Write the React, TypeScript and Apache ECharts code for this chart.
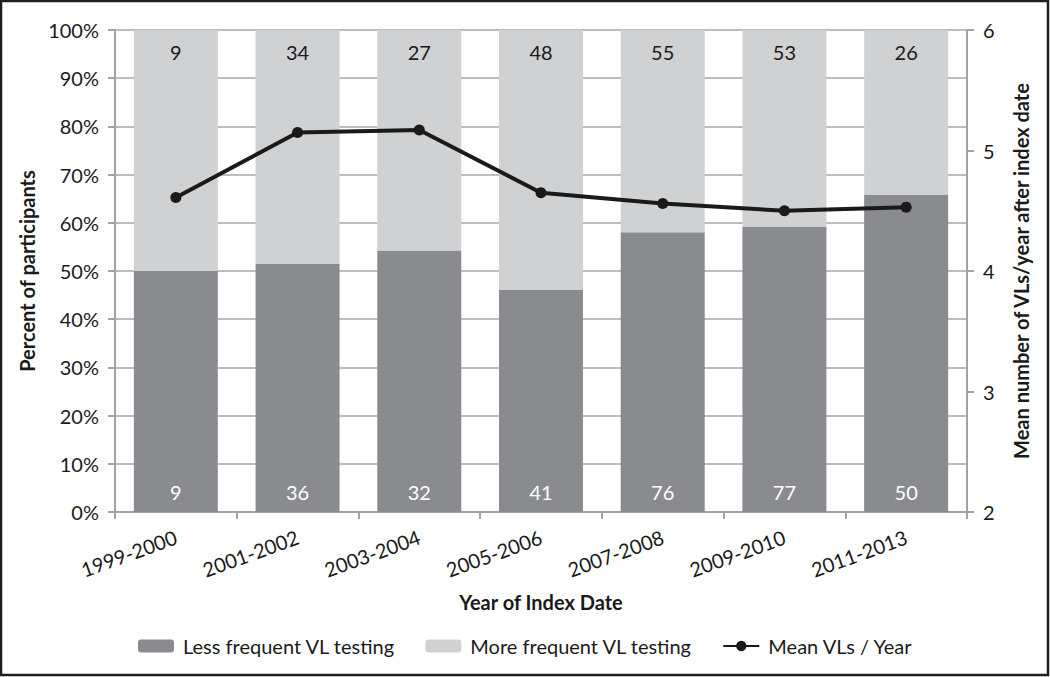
import React, { useEffect, useRef } from "react";
import * as echarts from "echarts";

const categories = ["1999-2000", "2001-2002", "2003-2004", "2005-2006", "2007-2008", "2009-2010", "2011-2013"];
const lessCounts = [9, 36, 32, 41, 76, 77, 50];
const moreCounts = [9, 34, 27, 48, 55, 53, 26];
const meanVLs = [4.61, 5.15, 5.17, 4.65, 4.56, 4.5, 4.53];
const leftTicks = { min: 0, max: 100, interval: 10 };
const rightTicks = { min: 2, max: 6, interval: 1 };

const FONT = "Lato, 'Noto Sans', sans-serif";

export default function App() {
  const ref = useRef<HTMLDivElement>(null);
  useEffect(() => {
    if (!ref.current) return;
    const chart = echarts.init(ref.current, undefined, { renderer: "svg" });
    const lessPct = lessCounts.map((v, i) => (v / (v + moreCounts[i])) * 100);
    const morePct = moreCounts.map((v, i) => (v / (v + lessCounts[i])) * 100);
    const axisLine = { show: true, lineStyle: { color: "#a3a3a3", width: 2 } };
    const tick = { show: true, length: 7, lineStyle: { color: "#a3a3a3", width: 2 } };
    const nameStyle = { fontSize: 20, fontWeight: "bold", color: "#1a1a1a", fontFamily: FONT };
    chart.setOption({
      animation: false,
      textStyle: { fontFamily: FONT },
      graphic: [
        {
          type: "rect",
          shape: { x: 1, y: 1, width: 1047, height: 674 },
          style: { fill: "none", stroke: "#1e1e1e", lineWidth: 2.5 },
          silent: true,
        },
      ],
      grid: { left: 115, right: 83, top: 30, bottom: 165, containLabel: false },
      legend: {
        bottom: 16,
        left: 133,
        itemWidth: 36,
        itemHeight: 13,
        itemGap: 30,
        textStyle: { fontSize: 20, color: "#1a1a1a", fontFamily: FONT, padding: [0, 0, 0, 4] },
        data: ["Less frequent VL testing", "More frequent VL testing", "Mean VLs / Year"],
      },
      xAxis: {
        type: "category",
        data: categories,
        axisLine,
        axisTick: tick,
        axisLabel: { rotate: 20, fontSize: 20, color: "#1a1a1a", margin: 24, fontFamily: FONT },
        name: "Year of Index Date",
        nameLocation: "middle",
        nameGap: 80,
        nameTextStyle: nameStyle,
      },
      yAxis: [
        {
          type: "value",
          ...leftTicks,
          axisLine,
          axisTick: tick,
          axisLabel: { formatter: "{value}%", fontSize: 20, color: "#1a1a1a", margin: 16, fontFamily: FONT },
          splitLine: { show: true, lineStyle: { color: "#bdbdbd", width: 2 } },
          name: "Percent of participants",
          nameLocation: "middle",
          nameGap: 77,
          nameTextStyle: nameStyle,
        },
        {
          type: "value",
          ...rightTicks,
          position: "right",
          axisLine,
          axisTick: tick,
          axisLabel: { fontSize: 20, color: "#1a1a1a", margin: 16, fontFamily: FONT },
          splitLine: { show: false },
          name: "Mean number of VLs/year after index date",
          nameLocation: "middle",
          nameGap: 44,
          nameRotate: 90,
          nameTextStyle: nameStyle,
        },
      ],
      series: [
        {
          name: "Less frequent VL testing",
          type: "bar",
          stack: "pct",
          data: lessPct,
          barCategoryGap: "31%",
          itemStyle: { color: "#8a8b8f" },
          label: {
            show: true,
            position: "insideBottom",
            distance: 10,
            color: "#ffffff",
            fontSize: 20,
            fontFamily: FONT,
            formatter: (p: any) => String(lessCounts[p.dataIndex]),
          },
        },
        {
          name: "More frequent VL testing",
          type: "bar",
          stack: "pct",
          data: morePct,
          barCategoryGap: "31%",
          itemStyle: { color: "#d0d1d3" },
          label: {
            show: true,
            position: "insideTop",
            distance: 12,
            color: "#1a1a1a",
            fontSize: 20,
            fontFamily: FONT,
            formatter: (p: any) => String(moreCounts[p.dataIndex]),
          },
        },
        {
          name: "Mean VLs / Year",
          type: "line",
          yAxisIndex: 1,
          data: meanVLs,
          symbol: "circle",
          symbolSize: 11,
          lineStyle: { color: "#1a1a1a", width: 4 },
          itemStyle: { color: "#1a1a1a" },
          z: 5,
        },
      ],
    });
    return () => chart.dispose();
  }, []);
  return (
    <div
      ref={ref}
      style={{ position: "fixed", left: 0, top: 0, width: 1050, height: 677, background: "#fff" }}
    />
  );
}
